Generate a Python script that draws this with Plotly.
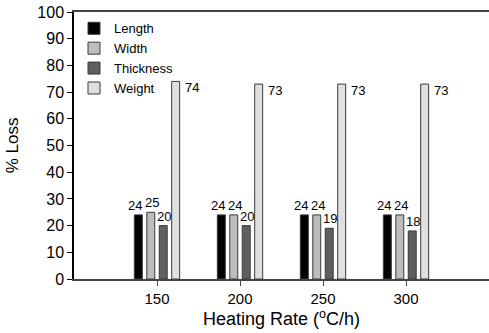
import plotly.graph_objects as go

rates = [150, 200, 250, 300]
length = [24, 24, 24, 24]
width = [25, 24, 24, 24]
thickness = [20, 20, 19, 18]
weight = [74, 73, 73, 73]

series = [
    ("Length", length, "#000000"),
    ("Width", width, "#bdbdbd"),
    ("Thickness", thickness, "#5f5f5f"),
    ("Weight", weight, "#e0e0e0"),
]

fig = go.Figure()
for name, vals, col in series:
    fig.add_trace(go.Bar(
        x=rates, y=vals, name=name,
        marker=dict(color=col, line=dict(color="#3a3a3a", width=1)),
    ))

font = "Liberation Sans, Arial, sans-serif"
ann = []
shifts = {"Length": -22, "Width": -5, "Thickness": 7}
for name, vals, col in series:
    for r, v in zip(rates, vals):
        if name == "Weight":
            ann.append(dict(x=r, y=v, text=str(v), showarrow=False, xref="x", yref="y",
                            xanchor="left", yanchor="top", xshift=26, yshift=3,
                            font=dict(size=13, color="#000000", family=font)))
        else:
            ann.append(dict(x=r, y=v, text=str(v), showarrow=False, xref="x", yref="y",
                            xanchor="center", yanchor="bottom", xshift=shifts[name], yshift=0,
                            font=dict(size=13, color="#000000", family=font)))

fig.update_layout(
    width=489, height=333,
    margin=dict(l=74, r=0, t=12, b=54),
    paper_bgcolor="white", plot_bgcolor="white",
    barmode="group", bargap=0.4, bargroupgap=0.36,
    font=dict(family=font, size=13, color="#000000"),
    annotations=ann,
    legend=dict(x=0.0, y=0.995, xanchor="left", yanchor="top",
                bgcolor="rgba(0,0,0,0)", font=dict(size=13, family=font),
                tracegroupgap=0, itemwidth=30),
    xaxis=dict(range=[100, 350], tickvals=rates, ticktext=[str(r) for r in rates],
               showline=True, linecolor="#444", linewidth=1.5, mirror=True,
               ticks="outside", ticklen=5, tickcolor="#444", showgrid=False, zeroline=False,
               tickfont=dict(size=15, family=font),
               title=dict(text="Heating Rate (<sup>o</sup>C/h)", font=dict(size=18, family=font), standoff=7)),
    yaxis=dict(range=[0, 100], dtick=10, showline=True, linecolor="#000", linewidth=1.5,
               ticks="outside", ticklen=5, tickcolor="#000", showgrid=False, zeroline=False,
               tickfont=dict(size=16, family=font),
               title=dict(text="% Loss", font=dict(size=17, family=font), standoff=14)),
)

fig.write_html("out.html")
